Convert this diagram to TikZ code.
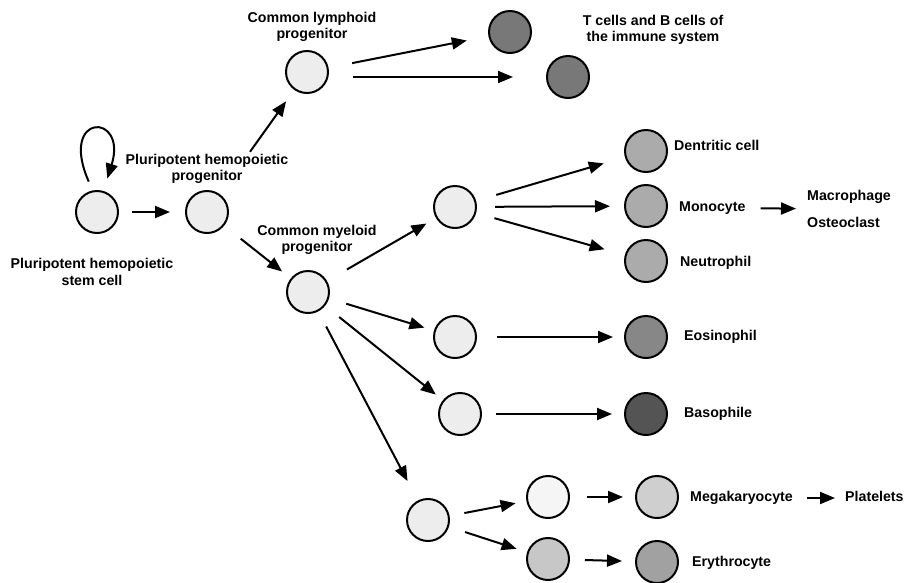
\documentclass[tikz,border=0pt]{standalone}
\usepackage{fontspec}
\setmainfont{Liberation Sans}
\usetikzlibrary{arrows.meta}
\begin{document}
\begin{tikzpicture}[x=1pt,y=-1pt,>={Triangle[length=15pt,width=12pt]},
  cell/.style={circle,draw,line width=2pt,minimum size=42pt,inner sep=0pt},
  lbl/.style={font=\fontsize{14.2}{16.5}\selectfont\bfseries,align=center,inner sep=0pt},
  side/.style={lbl,anchor=west,text height=10pt,text depth=3pt},
  arr/.style={->,line width=2pt}]
\useasboundingbox (0,0) rectangle (918,582);
% cells
\node[cell,fill=black!7](hsc)at(97,212){};
\node[cell,fill=black!7](php)at(207,212){};
\node[cell,fill=black!7](clp)at(307,72){};
\node[cell,fill=black!53](tcell)at(510,32){};
\node[cell,fill=black!53](bcell)at(568,77){};
\node[cell,fill=black!7](cmp)at(308,292){};
\node[cell,fill=black!7](gmp)at(455,207){};
\node[cell,fill=black!33](dc)at(646,151){};
\node[cell,fill=black!33](mono)at(646,206){};
\node[cell,fill=black!33](neut)at(646,261){};
\node[cell,fill=black!7](eop)at(455,337){};
\node[cell,fill=black!47](eos)at(646,337){};
\node[cell,fill=black!7](bap)at(460,414){};
\node[cell,fill=black!67](baso)at(646,414){};
\node[cell,fill=black!7](mep)at(428,520){};
\node[cell,fill=black!4](mkp)at(548,497){};
\node[cell,fill=black!22](erp)at(548,559){};
\node[cell,fill=black!19](mk)at(657,497){};
\node[cell,fill=black!37](ery)at(657,562){};

% labels
\node[lbl](hsclbl)at(92,272){Pluripotent hemopoietic\\stem cell};
\node[lbl](phplbl)at(207,169){Pluripotent hemopoietic\\progenitor};
\node[lbl](clplbl)at(312,27){Common lymphoid\\progenitor};
\node[lbl](tblbl)at(653,30){T cells and B cells of\\the immune system};
\node[lbl](cmplbl)at(317,240){Common myeloid\\progenitor};
\node[side](dclbl)at(674,147){Dentritic cell};
\node[side](monolbl)at(679,208){Monocyte};
\node[lbl,anchor=west,align=left](macrolbl)at(807,209){Macrophage\\[10pt]Osteoclast};
\node[side](neutlbl)at(680,263){Neutrophil};
\node[side](eoslbl)at(684,337){Eosinophil};
\node[side](basolbl)at(684,414){Basophile};
\node[side](mklbl)at(690,498){Megakaryocyte};
\node[side](pltlbl)at(845,498){Platelets};
\node[side](erylbl)at(692,563){Erythrocyte};

% self renewal
\draw[arr]([yshift=10pt]hsc.112)..controls(58,112)and(128,112)..([yshift=14pt]hsc.62);

\draw[arr,shorten <=13pt,shorten >=15pt](hsc)--(php);
\draw[arr,shorten <=52pt,shorten >=14pt](php)--(clp);
\draw[arr,shorten <=21pt,shorten >=11pt](php)--(cmp);
\draw[arr,shorten <=24pt,shorten >=22pt](clp)--(tcell);
\draw[arr,shorten <=46pt,shorten >=33pt]([yshift=-5pt]clp.center)--(bcell);
\draw[arr,shorten <=23pt,shorten >=11pt](cmp)--(gmp);
\draw[arr,shorten <=18pt,shorten >=10pt](cmp)--(eop);
\draw[arr,shorten <=18pt,shorten >=9pt](cmp)--(bap);
\draw[arr,shorten <=17pt,shorten >=22pt](cmp)--(mep);
\draw[arr,shorten <=21pt,shorten >=22pt](gmp)--(dc);
\draw[arr,shorten <=18pt,shorten >=14pt](gmp)--(mono);
\draw[arr,shorten <=19pt,shorten >=21pt](gmp)--(neut);
\draw[arr,shorten <=20pt,shorten >=11pt](eop)--(eos);
\draw[arr,shorten <=14pt,shorten >=12pt](bap)--(baso);
\draw[arr,shorten <=15pt,shorten >=11pt](mep)--(mkp);
\draw[arr,shorten <=17pt,shorten >=11pt](mep)--(erp);
\draw[arr,shorten <=17pt,shorten >=12pt](mkp)--(mk);
\draw[arr,shorten <=15pt,shorten >=13pt](erp)--(ery);
\draw[arr,shorten <=15pt,shorten >=11pt](monolbl)--(macrolbl);
\draw[arr,shorten <=14pt,shorten >=10pt](mklbl)--(pltlbl);
\end{tikzpicture}
\end{document}
